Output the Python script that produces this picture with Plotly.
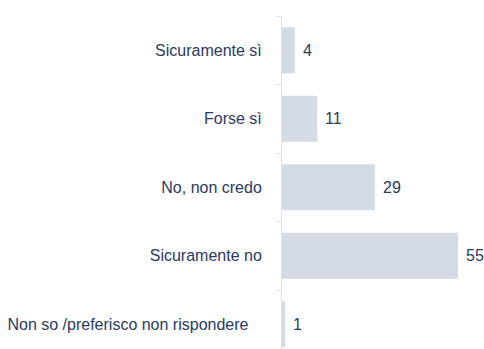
import plotly.graph_objects as go

categories = [
    "Sicuramente sì",
    "Forse sì",
    "No, non credo",
    "Sicuramente no",
    "Non so /preferisco non rispondere",
]
values = [4, 11, 29, 55, 1]

BAR_COLOR = "#d5dbe5"
TEXT_COLOR = "#2b3a60"
AXIS_COLOR = "#e3e3e3"
FONT = "Liberation Sans, Arial, sans-serif"
FONT_SIZE = 16

# the long answer sits a little further from the axis than the others
tick_text = categories[:-1] + [categories[-1] + "\u00a0\u00a0\u00a0"]

fig = go.Figure(
    go.Bar(
        x=values,
        y=categories,
        orientation="h",
        marker=dict(color=BAR_COLOR, line=dict(width=0)),
        width=0.67,
        hoverinfo="skip",
    )
)

# value labels just to the right of each bar
for cat, val in zip(categories, values):
    fig.add_annotation(
        x=val,
        y=cat,
        text=str(val),
        showarrow=False,
        xanchor="left",
        yanchor="middle",
        xshift=6,
        font=dict(family=FONT, size=FONT_SIZE, color=TEXT_COLOR),
    )

fig.update_layout(
    width=484,
    height=349,
    margin=dict(l=282, r=10, t=16, b=0),
    paper_bgcolor="white",
    plot_bgcolor="white",
    showlegend=False,
    font=dict(family=FONT, size=FONT_SIZE, color=TEXT_COLOR),
    xaxis=dict(
        range=[0, 60],
        showgrid=False,
        zeroline=False,
        showticklabels=False,
        showline=False,
        ticks="",
        fixedrange=True,
    ),
    yaxis=dict(
        type="category",
        categoryorder="array",
        categoryarray=categories,
        tickmode="array",
        tickvals=categories,
        ticktext=tick_text,
        range=[4.36, -0.5],
        showgrid=False,
        zeroline=False,
        showline=True,
        linecolor=AXIS_COLOR,
        linewidth=1,
        ticks="outside",
        tickson="boundaries",
        ticklen=5,
        tickcolor=AXIS_COLOR,
        tickwidth=1,
        ticklabelstandoff=16,
        tickfont=dict(family=FONT, size=FONT_SIZE, color=TEXT_COLOR),
        fixedrange=True,
    ),
)

fig.write_html("out.html")
